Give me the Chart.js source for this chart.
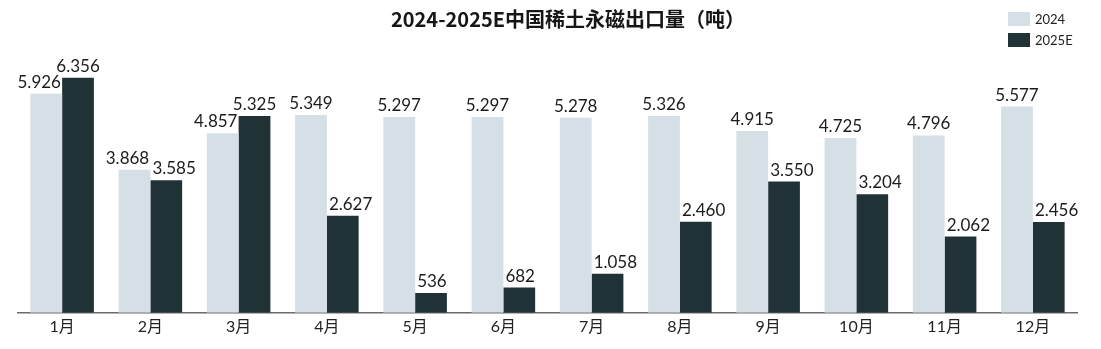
<!DOCTYPE html>
<html>
<head>
<meta charset="utf-8">
<script src="https://cdn.jsdelivr.net/npm/chart.js@4/dist/chart.umd.min.js"></script>
<style>
  html, body { margin: 0; padding: 0; background: #fff; }
  #wrap { width: 1101px; height: 349px; position: relative; }
</style>
</head>
<body>
<div id="wrap"><canvas id="chart" width="1101" height="349"></canvas></div>
<script>
var months = ['1月', '2月', '3月', '4月', '5月', '6月', '7月', '8月', '9月', '10月', '11月', '12月'];
var export2024 = [5926, 3868, 4857, 5349, 5297, 5297, 5278, 5326, 4915, 4725, 4796, 5577];
var export2025E = [6356, 3585, 5325, 2627, 536, 682, 1058, 2460, 3550, 3204, 2062, 2456];
var seriesNames = ['2024', '2025E'];
var titleText = '2024-2025E中国稀土永磁出口量（吨）';

var colors = {
    light: 'rgb(212, 224, 229)',
    dark: 'rgb(33, 50, 55)',
    text: '#1c1c1c'
};

// 5926 -> "5.926"
function fmt(v) {
    var s = String(v);
    return s.length > 3 ? s.slice(0, s.length - 3) + '.' + s.slice(-3) : s;
}

// value labels above bars, title and legend
var extras = {
    id: 'extras',
    afterDatasetsDraw: function(chart) {
        var ctx = chart.ctx;
        var metaA = chart.getDatasetMeta(0);
        var metaB = chart.getDatasetMeta(1);
        ctx.save();
        ctx.font = '17px Lato, "Noto Sans", sans-serif';
        ctx.fillStyle = colors.text;
        ctx.textBaseline = 'alphabetic';
        ctx.textAlign = 'left';
        for (var i = 0; i < months.length; i++) {
            var a = metaA.data[i], b = metaB.data[i];
            var ta = fmt(export2024[i]), tb = fmt(export2025E[i]);
            var wa = ctx.measureText(ta).width, wb = ctx.measureText(tb).width;
            var xa = a.x - wa / 2;
            var xb = b.x - wb / 2;
            if (export2025E[i] < export2024[i]) {
                xb = b.x - b.width / 2 + 2;
            }
            if (Math.abs(a.y - b.y) < 25) {
                xa -= 7;
            }
            ctx.fillText(ta, xa, a.y - 6);
            ctx.fillText(tb, xb, b.y - 6);
        }

        // title
        ctx.font = 'bold 20px "Noto Sans CJK SC", sans-serif';
        ctx.fillStyle = '#161616';
        ctx.textAlign = 'center';
        ctx.textBaseline = 'middle';
        ctx.fillText(titleText, 568, 19);

        // legend
        ctx.font = '13px Lato, "Noto Sans", sans-serif';
        ctx.textAlign = 'left';
        var ds = chart.data.datasets;
        var ys = [12, 33];
        for (var k = 0; k < ds.length; k++) {
            ctx.fillStyle = ds[k].backgroundColor;
            ctx.fillRect(1008, ys[k], 22, 14);
            ctx.fillStyle = '#222';
            ctx.fillText(ds[k].label, 1035, ys[k] + 7.5);
        }
        ctx.restore();
    }
};

var ctx = document.getElementById('chart').getContext('2d');
var chart = new Chart(ctx, {
    type: 'bar',
    data: {
        labels: months,
        datasets: [
            { label: seriesNames[0], data: export2024, backgroundColor: colors.light },
            { label: seriesNames[1], data: export2025E, backgroundColor: colors.dark }
        ]
    },
    options: {
        responsive: false,
        animation: false,
        layout: { padding: { left: 18, right: 24, top: 54, bottom: 9 } },
        plugins: {
            legend: { display: false },
            title: { display: false },
            tooltip: { enabled: false }
        },
        datasets: {
            bar: { categoryPercentage: 0.72, barPercentage: 1.0 }
        },
        scales: {
            x: {
                grid: { display: false, drawTicks: false },
                border: { display: true, color: '#6b6b6b', width: 1.5 },
                ticks: {
                    padding: 4,
                    color: '#222',
                    font: { family: 'Lato, "Noto Sans CJK SC", sans-serif', size: 16 }
                }
            },
            y: {
                display: false,
                min: 0,
                max: 7000
            }
        }
    },
    plugins: [extras]
});
</script>
</body>
</html>
